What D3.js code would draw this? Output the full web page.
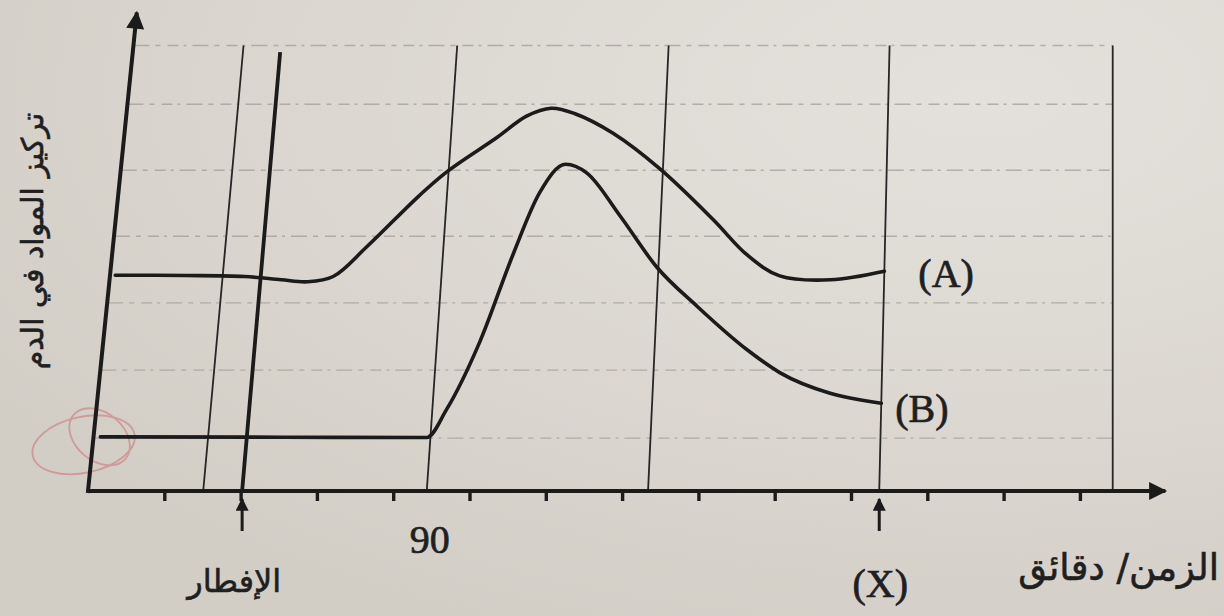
<!DOCTYPE html>
<html>
<head>
<meta charset="utf-8">
<script src="https://cdn.jsdelivr.net/npm/d3@7"></script>
<style>
  html, body { margin: 0; padding: 0; background: #dad6cf; }
  svg { display: block; }
</style>
</head>
<body>
<svg id="chart" width="1224" height="616"></svg>
<script>
// ---------------- data ----------------
// time measured in axis-tick units, concentration in grid units
const tickValues = [1, 2, 3, 4, 5, 6, 7, 8, 9, 10, 11, 12, 13];
const gridLevels = [0.8, 1.83, 2.85, 3.86, 4.86, 5.86, 6.75];
const thinLineTimes = [1.51, 4.44, 7.34, 10.37, 13.43];
const breakfastTime = 2.02;
const xEventTime = 10.37;
const mark90Time = 4.44;
const mark90Label = "90";
const breakfastLabel = "الإفطار";
const xEventLabel = "(X)";
const xAxisTitle = "الزمن/ دقائق";
const yAxisTitle = "تركيز المواد في الدم";
const seriesNames = ["(A)", "(B)"];
const seriesA = [
  [0.07, 3.27], [1.0, 3.265], [1.8, 3.25], [2.3, 3.2], [2.65, 3.17], [2.99, 3.25], [3.41, 3.7],
  [4.07, 4.48], [4.42, 4.84], [5.07, 5.36], [5.45, 5.68], [5.78, 5.8], [6.1, 5.72],
  [6.64, 5.42], [7.30, 4.88], [8.05, 4.11], [8.52, 3.58], [8.97, 3.26], [9.65, 3.20],
  [10.37, 3.33]
];
const seriesB = [
  [0.09, 0.82], [2.5, 0.815], [4.39, 0.81], [4.63, 1.24], [5.01, 2.26], [5.38, 3.58], [5.69, 4.52],
  [6.02, 4.95], [6.31, 4.82], [6.79, 4.17], [7.32, 3.39], [7.88, 2.80], [8.57, 2.14],
  [9.02, 1.79], [9.69, 1.48], [10.37, 1.33]
];

// ---------------- layout ----------------
const svg = d3.select("#chart");
const W = 1224, H = 616;

const defs = svg.append("defs");
const bg = defs.append("radialGradient").attr("id", "paper")
  .attr("cx", "80%").attr("cy", "15%").attr("r", "95%");
bg.append("stop").attr("offset", "0%").attr("stop-color", "#e4e1dc");
bg.append("stop").attr("offset", "60%").attr("stop-color", "#dbd7d0");
bg.append("stop").attr("offset", "100%").attr("stop-color", "#d2cec6");
svg.append("rect").attr("width", W).attr("height", H).attr("fill", "url(#paper)");

function marker(id, w, h) {
  defs.append("marker").attr("id", id)
    .attr("viewBox", "0 0 10 10").attr("refX", 9).attr("refY", 5)
    .attr("markerUnits", "userSpaceOnUse")
    .attr("markerWidth", w).attr("markerHeight", h)
    .attr("orient", "auto")
    .append("path").attr("d", "M0,0 L10,5 L0,10 Z").attr("fill", "#1b1b1b");
}
marker("bigArrow", 24, 18);
marker("smallArrow", 14, 13);

const x = d3.scaleLinear().domain([0, 14]).range([88, 88 + 76.3 * 14]);
const y = d3.scaleLinear().domain([0, 7]).range([491, 491 - 66 * 7]);
// photo perspective: vertical lines lean right toward the top, less on the right
const lean = d3.scaleLinear().domain([0, 13.43]).range([0.102, 0]);
const P = (t, c) => [x(t) + lean(t) * (y(0) - y(c)), y(c)];

const ink = "#1b1b1b";
const lineGen = d3.line().x(d => P(d[0], d[1])[0]).y(d => P(d[0], d[1])[1]);
const curveA = d3.line().curve(d3.curveCatmullRom.alpha(0.5))
  .x(d => P(d[0], d[1])[0]).y(d => P(d[0], d[1])[1]);
const curveB = d3.line().curve(d3.curveMonotoneX)
  .x(d => P(d[0], d[1])[0]).y(d => P(d[0], d[1])[1]);

// faint red pen marks near the origin
const red = svg.append("g").attr("fill", "none").attr("stroke", "#cf8484")
  .attr("stroke-width", 1.8).attr("opacity", 0.7);
const redC = P(-0.12, 0.7);
red.append("ellipse").attr("cx", redC[0]).attr("cy", redC[1]).attr("rx", 52).attr("ry", 28)
  .attr("transform", `rotate(-12 ${redC[0]} ${redC[1]})`);
red.append("ellipse").attr("cx", redC[0] + 16).attr("cy", redC[1] - 8).attr("rx", 34).attr("ry", 24)
  .attr("transform", `rotate(40 ${redC[0] + 16} ${redC[1] - 8})`);

// dashed horizontal grid
svg.append("g").selectAll("path").data(gridLevels).join("path")
  .attr("d", c => lineGen([[0, c], [13.43, c]]))
  .attr("fill", "none").attr("stroke", "#a29e97").attr("stroke-width", 1.3)
  .attr("stroke-dasharray", "16 6 5 7 11 5 3 6").attr("opacity", 0.75);

// thin vertical lines
svg.append("g").selectAll("path").data(thinLineTimes).join("path")
  .attr("d", t => lineGen([[t, 0], [t, 6.75]]))
  .attr("fill", "none").attr("stroke", "#262626").attr("stroke-width", 1.8);

// thick breakfast line
svg.append("path").attr("d", lineGen([[breakfastTime, 0], [breakfastTime, 6.65]]))
  .attr("fill", "none").attr("stroke", ink).attr("stroke-width", 3.8);

// curves
svg.append("path").attr("d", curveA(seriesA))
  .attr("fill", "none").attr("stroke", ink).attr("stroke-width", 3.6)
  .attr("stroke-linejoin", "round").attr("stroke-linecap", "round");
svg.append("path").attr("d", curveB(seriesB))
  .attr("fill", "none").attr("stroke", ink).attr("stroke-width", 3.6)
  .attr("stroke-linejoin", "round").attr("stroke-linecap", "round");

// x axis ticks
const xAxis = d3.axisBottom(x).tickValues(tickValues).tickSize(10).tickFormat("");
const gx = svg.append("g").attr("transform", `translate(0,${y(0)})`).call(xAxis);
gx.select(".domain").remove();
gx.selectAll(".tick line").attr("stroke", ink).attr("stroke-width", 3.4);

// axes lines with arrows
svg.append("path").attr("d", lineGen([[0, 0], [14.12, 0]]))
  .attr("stroke", ink).attr("stroke-width", 4).attr("fill", "none")
  .attr("marker-end", "url(#bigArrow)");
svg.append("path").attr("d", lineGen([[0, -0.03], [0, 7.25]]))
  .attr("stroke", ink).attr("stroke-width", 4).attr("fill", "none")
  .attr("marker-end", "url(#bigArrow)");

// small event arrows below the axis
[breakfastTime, xEventTime].forEach(t => {
  svg.append("line")
    .attr("x1", x(t)).attr("x2", x(t))
    .attr("y1", y(0) + 40).attr("y2", y(0) + 8)
    .attr("stroke", ink).attr("stroke-width", 3)
    .attr("marker-end", "url(#smallArrow)");
});

// texts
const serif = "'Liberation Serif', 'DejaVu Serif', serif";
const arab = "'DejaVu Sans', 'Noto Sans', sans-serif";
const txt = "#1f1f1f";

function serifText(xp, yp, s, anchor) {
  return svg.append("text").attr("x", xp).attr("y", yp)
    .attr("text-anchor", anchor).attr("font-family", serif).attr("font-size", 40)
    .attr("fill", txt).attr("stroke", txt).attr("stroke-width", 0.7).text(s);
}
function arabText(xp, yp, s, anchor, size) {
  return svg.append("text").attr("x", xp).attr("y", yp)
    .attr("text-anchor", anchor).attr("font-family", arab).attr("font-size", size)
    .attr("fill", txt).attr("stroke", txt).attr("stroke-width", 0.6).text(s);
}

serifText(x(mark90Time) + 3, y(0) + 62, mark90Label, "middle");
serifText(x(xEventTime) + 1, y(0) + 106, xEventLabel, "middle");

arabText(x(breakfastTime) - 8, y(0) + 101, breakfastLabel, "middle", 32);
arabText(1219, y(0) + 89, xAxisTitle, "end", 37);

const endA = P(seriesA[seriesA.length - 1][0], seriesA[seriesA.length - 1][1]);
const endB = P(seriesB[seriesB.length - 1][0], seriesB[seriesB.length - 1][1]);
serifText(endA[0] + 34, endA[1] + 16, seriesNames[0], "start");
serifText(endB[0] + 14, endB[1] + 19, seriesNames[1], "start");

arabText(0, 0, yAxisTitle, "middle", 30)
  .attr("transform", `translate(34, 241) rotate(-90)`)
  .attr("dominant-baseline", "middle");
</script>
</body>
</html>
